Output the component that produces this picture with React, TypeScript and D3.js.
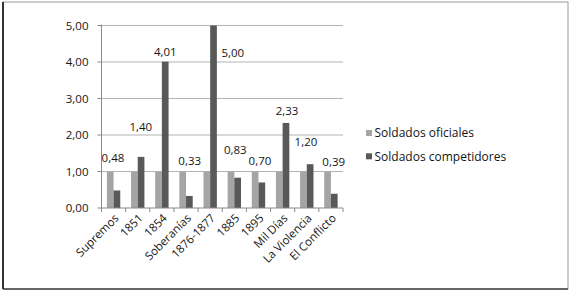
import React from "react";
import * as d3 from "d3";

const categories = ["Supremos", "1851", "1854", "Soberanías", "1876-1877", "1885", "1895", "Mil Días", "La Violencia", "El Conflicto"];
const seriesNames = ["Soldados oficiales", "Soldados competidores"];
const oficiales = [1, 1, 1, 1, 1, 1, 1, 1, 1, 1];
const competidores = [0.48, 1.4, 4.01, 0.33, 5.0, 0.83, 0.7, 2.33, 1.2, 0.39];
const yTicks = [0, 1, 2, 3, 4, 5];
// manual label placement as in the source chart: [value level, horizontal shift in px]
const labelLevel = [1.36, 2.23, 4.27, 1.3, 4.24, 1.6, 1.29, 2.66, 1.82, 1.27];
const labelShift = [-0.6, 3.1, 3.4, 3.7, 22.6, 1, 1.5, 4.4, -0.8, 2.8];

const W = 574, H = 294;
const plot = { left: 101.5, right: 343, top: 25.5, bottom: 208 };
const colors = ["#a5a5a5", "#595959"];
const FONT = "'Open Sans', sans-serif";
const TEXT = "#151515";
const fmt = (v: number) => v.toFixed(2).replace(".", ",");

export default function App() {
  const x = d3.scaleBand<string>().domain(categories).range([plot.left, plot.right]).padding(0);
  const bw = x.bandwidth();
  const gapHalf = bw * 0.223;
  const xs = d3.scaleBand<string>().domain(seriesNames).range([gapHalf, bw - gapHalf]).padding(0);
  const y = d3.scaleLinear().domain([0, 5]).range([plot.bottom, plot.top]);
  const seriesData = [oficiales, competidores];

  return (
    <svg width={W} height={H} style={{ position: "absolute", left: 0, top: 0, background: "#fff" }} fontFamily={FONT}>
      {/* frame */}
      <rect x={3} y={2} width={565} height={287} fill="#fff" stroke="#9a9a9a" strokeWidth={1} />
      <line x1={3} y1={2} x2={3} y2={289} stroke="#333" strokeWidth={2} />
      <line x1={3} y1={289} x2={568} y2={289} stroke="#444" strokeWidth={1.5} />

      {/* gridlines */}
      {yTicks.filter((t) => t > 0).map((t) => (
        <line key={"g" + t} x1={plot.left} x2={plot.right} y1={y(t)} y2={y(t)} stroke="#b4b4b4" strokeWidth={1} />
      ))}
      {/* y ticks and labels */}
      {yTicks.map((t) => (
        <g key={"yt" + t}>
          <line x1={plot.left - 4} x2={plot.left} y1={y(t)} y2={y(t)} stroke="#8a8a8a" />
          <text x={88.5} y={y(t)} dy="0.35em" textAnchor="end" fontSize={11.5} fill={TEXT}>{fmt(t)}</text>
        </g>
      ))}

      {/* bars */}
      {categories.map((c, i) => (
        <g key={"b" + c} transform={`translate(${x(c)},0)`}>
          {seriesNames.map((s, k) => (
            <rect key={s} x={xs(s)} y={y(seriesData[k][i])} width={xs.bandwidth()} height={y(0) - y(seriesData[k][i])} fill={colors[k]} />
          ))}
        </g>
      ))}

      {/* axes */}
      <line x1={plot.left} x2={plot.left} y1={plot.top - 1} y2={plot.bottom} stroke="#8a8a8a" />
      <line x1={plot.left} x2={plot.right} y1={plot.bottom} y2={plot.bottom} stroke="#8a8a8a" />
      {categories.concat([""]).map((c, i) => {
        const xx = plot.left + i * bw;
        return <line key={"xt" + i} x1={xx} x2={xx} y1={plot.bottom} y2={plot.bottom + 4} stroke="#8a8a8a" />;
      })}

      {/* data labels */}
      {categories.map((c, i) => (
        <text key={"l" + c} x={(x(c) as number) + bw / 2 + labelShift[i]} y={y(labelLevel[i])} dy="0.35em" textAnchor="middle" fontSize={11.5} fill={TEXT}>
          {fmt(competidores[i])}
        </text>
      ))}

      {/* x labels */}
      {categories.map((c) => {
        const cx = (x(c) as number) + bw / 2 + 3;
        const cy = plot.bottom + 8;
        return (
          <text key={"xl" + c} transform={`translate(${cx},${cy}) rotate(-45)`} textAnchor="end" dy="0.35em" fontSize={11.5} fill={TEXT}>
            {c}
          </text>
        );
      })}

      {/* legend */}
      {seriesNames.map((s, k) => (
        <g key={"lg" + s} transform={`translate(366,${130 + k * 23.3})`}>
          <rect x={0} y={0} width={6} height={6} fill={colors[k]} />
          <text x={8.5} y={3} dy="0.35em" fontSize={12} fill={TEXT}>{s}</text>
        </g>
      ))}
    </svg>
  );
}
